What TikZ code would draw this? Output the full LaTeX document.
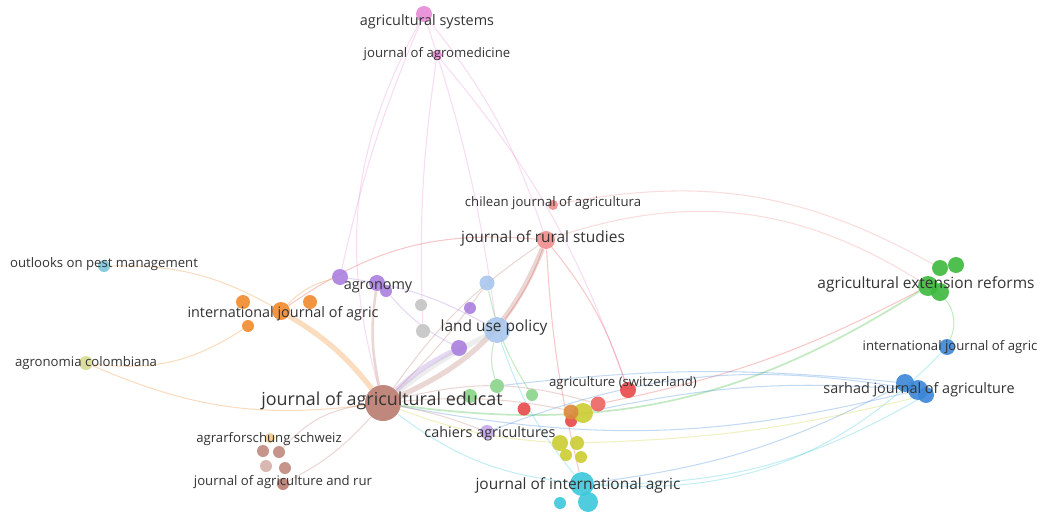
\documentclass[tikz,border=0pt]{standalone}
\usepackage{fontspec}
\setmainfont{Open Sans}
\definecolor{cbrown}{RGB}{185,123,111}
\definecolor{cred}{RGB}{232,72,72}
\definecolor{crose}{RGB}{239,140,140}
\definecolor{corange}{RGB}{240,138,44}
\definecolor{cpurple}{RGB}{168,127,222}
\definecolor{clblue}{RGB}{168,198,236}
\definecolor{cgray}{RGB}{196,196,196}
\definecolor{cgreen}{RGB}{60,184,60}
\definecolor{cblue}{RGB}{58,134,214}
\definecolor{colive}{RGB}{204,204,50}
\definecolor{ccyan}{RGB}{60,200,220}
\definecolor{cpink}{RGB}{230,138,214}
\definecolor{cteal}{RGB}{124,196,216}
\definecolor{cpale}{RGB}{216,220,144}
\definecolor{csand}{RGB}{242,200,138}
\definecolor{ctext}{RGB}{51,51,51}
\pgfdeclarelayer{links}
\pgfsetlayers{links,main}
\tikzset{
  jnode/.style={circle, inner sep=0pt, minimum size=#1, fill opacity=0.9},
  smalllabel/.style={text=ctext, font=\fontsize{7.5}{9}\selectfont, inner sep=0pt},
  jlabel/.style={text=ctext, font=\fontsize{8.2}{10}\selectfont, inner sep=0pt},
  biglabel/.style={text=ctext, font=\fontsize{8.8}{10}\selectfont, inner sep=0pt},
  mainlabel/.style={text=ctext, font=\fontsize{10.2}{12}\selectfont, inner sep=0pt},
  link/.style={draw=#1, draw opacity=0.3, line width=0.6pt},
  thicklink/.style={draw=#1, draw opacity=0.3, line width=3pt}
}
\begin{document}
\begin{tikzpicture}[x=0.02cm, y=-0.02cm]
\useasboundingbox (0,0) rectangle (1043,517);

% cluster nodes
\node[jnode=0.32cm, fill=cpink] (asys) at (424,14) {};
\node[jnode=0.2cm, fill=cpink] (agmed) at (437,55) {};

\node[jnode=0.2cm, fill=crose] (chil) at (553,205) {};
\node[jnode=0.36cm, fill=crose] (jrs) at (546,240) {};
\node[jnode=0.32cm, fill=cred] (aswi) at (628,390) {};
\node[jnode=0.3cm, fill=cred!85] (red2) at (598,404) {};
\node[jnode=0.26cm, fill=cred] (red3) at (524,409) {};
\node[jnode=0.24cm, fill=cred] (red4) at (571,421) {};

\node[jnode=0.52cm, fill=clblue] (lup) at (497,330) {};
\node[jnode=0.3cm, fill=clblue] (lub2) at (487,283) {};

\node[jnode=0.32cm, fill=cpurple] (pur1) at (340,277) {};
\node[jnode=0.32cm, fill=cpurple] (agro) at (377,283) {};
\node[jnode=0.24cm, fill=cpurple] (pur3) at (386,291) {};
\node[jnode=0.24cm, fill=cpurple] (pur4) at (470,308) {};
\node[jnode=0.32cm, fill=cpurple] (pur5) at (459,348) {};
\node[jnode=0.28cm, fill=cpurple!70] (cah) at (487,432) {};

\node[jnode=0.24cm, fill=cgray] (gry1) at (421,305) {};
\node[jnode=0.28cm, fill=cgray] (gry2) at (423,331) {};

\node[jnode=0.28cm, fill=corange] (or1) at (243,302) {};
\node[jnode=0.36cm, fill=corange] (ijao) at (281,311) {};
\node[jnode=0.28cm, fill=corange] (or3) at (310,302) {};
\node[jnode=0.24cm, fill=corange] (or4) at (248,326) {};

\node[jnode=0.24cm, fill=cteal] (opm) at (104,266) {};
\node[jnode=0.28cm, fill=cpale] (acol) at (86,363) {};

\node[jnode=0.72cm, fill=cbrown] (jae) at (383,403) {};
\node[jnode=0.2cm, fill=csand] (agsch) at (270,438) {};
\node[jnode=0.24cm, fill=cbrown!90] (br1) at (263,451) {};
\node[jnode=0.24cm, fill=cbrown!90] (br2) at (279,452) {};
\node[jnode=0.24cm, fill=cbrown!60] (br3) at (266,466) {};
\node[jnode=0.24cm, fill=cbrown!90] (br4) at (285,468) {};
\node[jnode=0.24cm, fill=cbrown] (jarr) at (283,484) {};

\node[jnode=0.28cm, fill=cgreen!60] (gr1) at (470,396) {};
\node[jnode=0.28cm, fill=cgreen!60] (gr2) at (497,386) {};
\node[jnode=0.24cm, fill=cgreen!60] (gr3) at (532,395) {};
\node[jnode=0.32cm, fill=cgreen] (gr4) at (940,268) {};
\node[jnode=0.32cm, fill=cgreen] (gr5) at (956,265) {};
\node[jnode=0.4cm, fill=cgreen] (aer) at (928,286) {};
\node[jnode=0.36cm, fill=cgreen] (gr6) at (940,292) {};

\node[jnode=0.32cm, fill=cblue] (ijab) at (947,347) {};
\node[jnode=0.36cm, fill=cblue] (sar1) at (905,383) {};
\node[jnode=0.4cm, fill=cblue] (sjag) at (918,390) {};
\node[jnode=0.32cm, fill=cblue] (sar3) at (926,395) {};

\node[jnode=0.4cm, fill=colive] (ol1) at (583,413) {};
\node[jnode=0.3cm, fill=cred!50!colive] (ol2) at (571,412) {};
\node[jnode=0.32cm, fill=colive] (ol3) at (560,443) {};
\node[jnode=0.28cm, fill=colive] (ol4) at (577,443) {};
\node[jnode=0.24cm, fill=colive] (ol5) at (566,455) {};
\node[jnode=0.24cm, fill=colive] (ol6) at (581,457) {};

\node[jnode=0.48cm, fill=ccyan] (jia) at (582,484) {};
\node[jnode=0.4cm, fill=ccyan] (cy2) at (588,502) {};
\node[jnode=0.24cm, fill=ccyan] (cy3) at (560,503) {};

% links
\begin{pgfonlayer}{links}
\draw[thicklink=cbrown] (jae) to[bend right=22] (jrs);
\draw[thicklink=corange] (jae) to[bend right=10] (ijao);
\draw[thicklink=cpurple] (jae) to[bend left=8] (pur5);
\draw[thicklink=cgray] (jae) to[bend left=5] (lup);
\draw[link=cbrown, line width=1.5pt] (jae) to[bend left=10] (agro);
\draw[link=cpink] (jae) to[bend left=22] (asys);
\draw[link=cpink] (asys) to[bend right=5] (pur1);
\draw[link=cpink] (asys) to[bend left=5] (lup);
\draw[link=cpink] (asys) to[bend left=10] (jrs);
\draw[link=cpink] (agmed) to[bend left=10] (aswi);
\draw[link=cpink] (agmed) to[bend right=5] (gry2);
\draw[link=crose] (jrs) to[bend left=25] (aer);
\draw[link=crose] (chil) to[bend left=20] (gr4);
\draw[link=cred] (jrs) to[bend left=10] (aswi);
\draw[link=cred] (jrs) to[bend right=5] (jia);
\draw[link=cred] (red2) to[bend right=8] (aer);
\draw[link=cred] (jrs) to[bend right=20] (ijao);
\draw[link=cred] (jrs) to[bend left=8] (lup);
\draw[link=cbrown] (jae) to[bend left=10] (jrs);
\draw[link=cbrown] (jae) to[bend right=5] (lub2);
\draw[link=cbrown] (jae) to[bend left=15] (red2);
\draw[link=cgreen, line width=1pt] (jae) to[bend right=20] (aer);
\draw[link=cgreen] (gr2) to[bend left=15] (lup);
\draw[link=cgreen] (aer) to[bend left=40] (ijab);
\draw[link=cgreen] (gr3) to[bend left=10] (lub2);
\draw[link=cblue] (jae) to[bend right=12] (sjag);
\draw[link=cblue] (sjag) to[bend right=8] (ol1);
\draw[link=cblue] (sar1) to[bend left=10] (jia);
\draw[link=cblue] (sjag) to[bend right=15] (cah);
\draw[link=cblue] (sar1) to[bend right=6] (gr2);
\draw[link=ccyan] (jae) to[bend right=15] (jia);
\draw[link=ccyan] (lup) to[bend right=10] (jia);
\draw[link=ccyan] (jia) to[bend right=15] (sar3);
\draw[link=ccyan] (jia) to[bend right=25] (ijab);
\draw[link=colive] (jae) to[bend right=8] (ol3);
\draw[link=colive] (ol4) to[bend right=6] (sar3);
\draw[link=cbrown] (jae) to[bend left=8] (ol1);
\draw[link=cbrown] (jae) to[bend right=20] (br2);
\draw[link=cbrown] (jae) to[bend left=10] (jarr);
\draw[link=cbrown] (jae) to[bend left=5] (cah);
\draw[link=corange] (ijao) to[bend right=15] (opm);
\draw[link=corange] (or4) to[bend left=20] (acol);
\draw[link=corange] (jae) to[bend left=15] (acol);
\draw[link=corange] (ijao) to[bend left=15] (pur1);
\draw[link=cpurple] (pur1) to[bend left=10] (lup);
\draw[link=cpurple] (pur3) to[bend right=10] (pur5);
\end{pgfonlayer}

% labels
\node[jlabel] (lasys) at (427,22) {agricultural systems};
\node[smalllabel] (lagmed) at (437,54) {journal of agromedicine};
\node[smalllabel] (lchil) at (553,203) {chilean journal of agricultura};
\node[biglabel] (ljrs) at (543,238) {journal of rural studies};
\node[smalllabel] (lopm) at (104,264) {outlooks on pest management};
\node[jlabel] (lagro) at (378,287) {agronomy};
\node[jlabel] (lijao) at (283,314) {international journal of agric};
\node[biglabel] (llup) at (494,327) {land use policy};
\node[biglabel] (laer) at (926,284) {agricultural extension reforms};
\node[smalllabel] (lacol) at (86,363) {agronomia colombiana};
\node[smalllabel] (lijab) at (950,347) {international journal of agric};
\node[smalllabel] (laswi) at (623,383) {agriculture (switzerland)};
\node[mainlabel] (ljae) at (382,401) {journal of agricultural educat};
\node[jlabel] (lsjag) at (919,390) {sarhad journal of agriculture};
\node[smalllabel] (lagsch) at (269,439) {agrarforschung schweiz};
\node[jlabel] (lcah) at (490,434) {cahiers agricultures};
\node[smalllabel] (ljarr) at (283,482) {journal of agriculture and rur};
\node[biglabel] (ljia) at (578,485) {journal of international agric};
\end{tikzpicture}
\end{document}
